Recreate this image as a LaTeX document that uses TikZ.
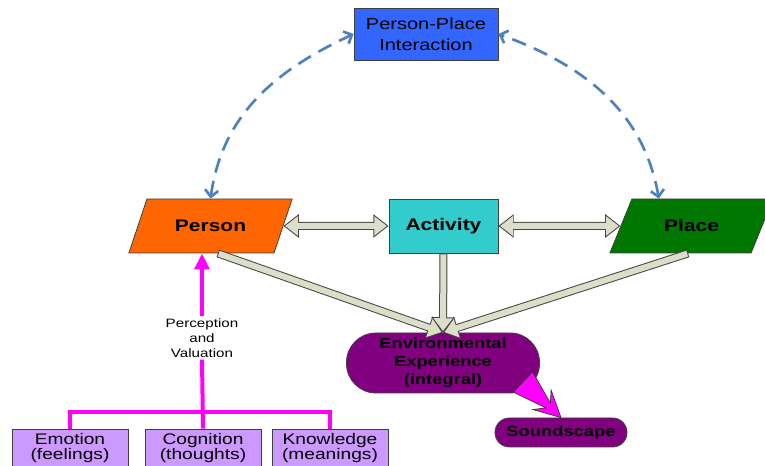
\documentclass[tikz,border=0pt]{standalone}
\usepackage{fontspec}
\setmainfont{Liberation Sans}[FakeStretch=1.25]
\usetikzlibrary{arrows.meta,shapes.geometric,calc}

\definecolor{ppiblue}{RGB}{51,102,255}
\definecolor{personorange}{RGB}{255,102,0}
\definecolor{activitycyan}{RGB}{51,204,204}
\definecolor{placegreen}{RGB}{0,119,0}
\definecolor{envpurple}{RGB}{128,0,128}
\definecolor{lavender}{RGB}{204,153,255}
\definecolor{fatfill}{RGB}{221,221,204}
\definecolor{fatedge}{RGB}{70,70,60}
\definecolor{dashblue}{RGB}{79,129,189}
\definecolor{linkmagenta}{RGB}{255,0,255}

\tikzset{
  outtip/.tip={Triangle[length=11.5pt,width=17pt]},
  intip/.tip={Triangle[length=9.5pt,width=14pt]},
  fatout/.style={line width=6pt, draw=fatedge},
  fatin/.style={line width=4.5pt, draw=fatfill},
  slant/.style={trapezium, trapezium left angle=61, trapezium right angle=119,
    trapezium stretches=true, minimum width=123pt, minimum height=40.5pt,
    draw=black!75, line width=0.6pt, font=\bfseries\fontsize{12.6}{15}\selectfont},
  ppibox/.style={draw=black!75, line width=0.6pt, fill=ppiblue, minimum width=108pt,
    minimum height=39pt, align=center, font=\fontsize{12}{15.75}\selectfont},
  actbox/.style={draw=black!75, line width=0.6pt, fill=activitycyan, minimum width=81.75pt,
    minimum height=40.5pt, font=\bfseries\fontsize{12.6}{15}\selectfont},
  pill/.style={draw=black!75, line width=0.6pt, fill=envpurple, align=center,
    inner sep=0pt, font=\bfseries\fontsize{11}{13.5}\selectfont},
  facet/.style={draw=black!75, line width=0.6pt, fill=lavender, minimum width=87pt,
    minimum height=28.5pt, inner sep=0pt, align=center, font=\fontsize{11.5}{11}\selectfont},
  branch/.style={draw=linkmagenta, line width=3pt},
  dashlink/.style={draw=dashblue, line width=2pt, dash pattern=on 11pt off 6.5pt,
    {Straight Barb[length=5pt,width=10pt]}-{Straight Barb[length=5pt,width=10pt]}}
}

\begin{document}
\begin{tikzpicture}[x=0.75pt,y=0.75pt]
  \useasboundingbox (0,0) rectangle (765,466);
  \clip (0,0) rectangle (765,466);

  \node[ppibox] (ppi) at (426,432) {Person-Place\\Interaction};
  \node[slant, fill=personorange] (person) at (210.5,240) {Person};
  \node[actbox] (activity) at (443.5,240) {Activity};
  \node[slant, fill=placegreen] (place) at (691.5,240) {Place};
  \node[pill, rounded corners=22pt, minimum width=144.75pt, minimum height=45pt] (env) at (443,103)
    {Environmental\\Experience\\(integral)};
  \node[pill, rounded corners=10.8pt, minimum width=99pt, minimum height=21.75pt] (sound) at (561,33.5)
    {Soundscape};
  \node[facet] (emotion) at (70,18) {Emotion\\(feelings)};
  \node[facet] (cognition) at (203,18) {Cognition\\(thoughts)};
  \node[facet] (knowledge) at (330,18) {Knowledge\\(meanings)};
  \node[align=center, inner sep=1.5pt, font=\fontsize{9.1}{11.25}\selectfont] (percep) at (202,128)
    {Perception\\and\\Valuation};
  \coordinate (envout) at (523,84);

  % dashed interaction arcs
  \draw[dashlink] (person.90) to[out=82,in=205] (ppi.west);
  \draw[dashlink] (place.140) to[out=100,in=-20] (ppi.east);

  % hollow arrows
  \foreach \a/\b in {person.0/activity.180, activity.0/place.180} {
    \draw[fatout, outtip-outtip] (\a) -- (\b);
    \draw[fatin, intip-intip, shorten <=1.26pt, shorten >=1.26pt] (\a) -- (\b);
  }
  \foreach \a in {person.-75, place.-97, activity.270} {
    \draw[fatout, -outtip] (\a) -- (env.north);
    \draw[fatin, -intip, shorten <=0.75pt, shorten >=1.26pt] (\a) -- (env.north);
  }

  % perception and valuation
  \draw[branch] (emotion.north) -- ++(0,17) -| (knowledge.north);
  \draw[branch] (cognition.north) -- (percep.south);
  \draw[branch, -{Triangle[length=12pt,width=11pt]}] (percep.north) -- (percep.north |- person.south);

  % notched arrow to soundscape
  \draw[fill=linkmagenta, draw=black!80, line width=0.5pt]
    ($(envout)!10.5pt!90:(sound.north)$)
    -- ($(envout)!0.66!(sound.north)!2.5pt!90:(sound.north)$)
    -- ($(envout)!0.5!(sound.north)!10pt!90:(sound.north)$)
    -- (sound.north)
    -- ($(envout)!0.5!(sound.north)!10pt!-90:(sound.north)$)
    -- ($(envout)!0.66!(sound.north)!2.5pt!-90:(sound.north)$)
    -- ($(envout)!10.5pt!-90:(sound.north)$) -- cycle;
\end{tikzpicture}
\end{document}
